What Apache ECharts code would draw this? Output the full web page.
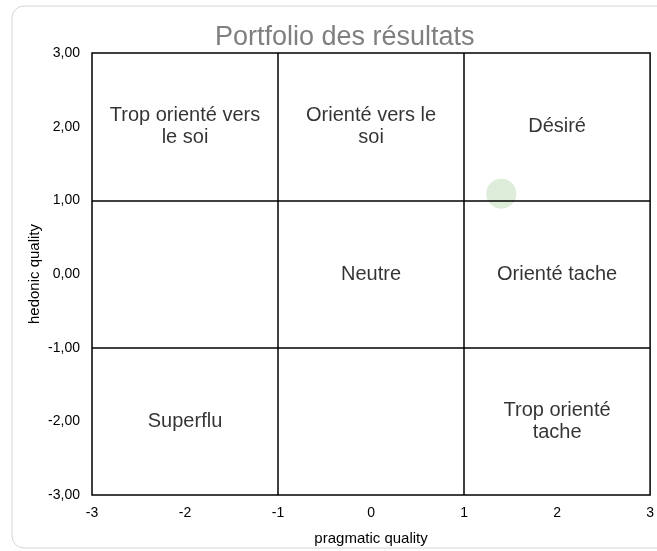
<!DOCTYPE html>
<html>
<head>
<meta charset="utf-8">
<script src="https://cdn.jsdelivr.net/npm/echarts@6/dist/echarts.min.js"></script>
<style>
  html, body { margin: 0; padding: 0; background: #fff; }
  #portfolioChart { width: 657px; height: 551px; }
</style>
</head>
<body>
<div id="portfolioChart"></div>
<script>
// données
const resultX = [1.40];
const resultY = [1.09];
const zoneNames = ["Trop orienté vers\nle soi", "Orienté vers le\nsoi", "Désiré", "Neutre", "Orienté tache", "Superflu", "Trop orienté\ntache"];
const zoneX = [-2, 0, 2, 0, 2, -2, 2];
const zoneY = [2, 2, 2, 0, 0, -2, -2];
const zoneBounds = [-1, 1];
const axisMin = -3, axisMax = 3;

const chart = echarts.init(document.getElementById("portfolioChart"));
const font = "Liberation Sans, Arial, sans-serif";

const option = {
  backgroundColor: "#fff",
  animation: false,
  graphic: [
    {
      type: "rect",
      shape: { x: 12, y: 6, width: 680, height: 542, r: 12 },
      style: { fill: "none", stroke: "#d4d4d4", lineWidth: 1 },
      silent: true,
    },
  ],
  title: {
    text: "Portfolio des résultats",
    left: 210,
    top: 19,
    textStyle: { color: "#7f7f7f", fontSize: 27, fontWeight: "normal", fontFamily: font },
  },
  grid: {
    left: 92,
    right: 6,
    top: 53,
    bottom: 55,
    show: true,
    borderColor: "#000",
    borderWidth: 1.5,
  },
  xAxis: {
    type: "value",
    min: axisMin,
    max: axisMax,
    interval: 1,
    name: "pragmatic quality",
    nameLocation: "middle",
    nameGap: 36,
    nameMoveOverlap: false,
    nameTextStyle: { color: "#000", fontSize: 15, fontFamily: font },
    axisLine: { show: false },
    axisTick: { show: false },
    splitLine: { show: false },
    axisLabel: { color: "#000", fontSize: 14, fontFamily: font, margin: 11 },
  },
  yAxis: {
    type: "value",
    min: axisMin,
    max: axisMax,
    interval: 1,
    name: "hedonic quality",
    nameLocation: "middle",
    nameGap: 50,
    nameMoveOverlap: false,
    nameTextStyle: { color: "#000", fontSize: 15, fontFamily: font },
    axisLine: { show: false },
    axisTick: { show: false },
    splitLine: { show: false },
    axisLabel: {
      color: "#000",
      fontSize: 14,
      fontFamily: font,
      margin: 12,
      formatter: (v) => v.toFixed(2).replace(".", ","),
    },
  },
  series: [
    {
      type: "scatter",
      silent: true,
      symbolSize: 0,
      data: zoneX.map((x, i) => [x, zoneY[i], zoneNames[i]]),
      label: {
        show: true,
        position: "inside",
        formatter: (p) => p.data[2],
        color: "#000",
        fontSize: 20,
        lineHeight: 22,
        fontFamily: font,
        align: "center",
      },
      markLine: {
        silent: true,
        symbol: "none",
        label: { show: false },
        lineStyle: { color: "#000", width: 1.5, type: "solid" },
        data: zoneBounds.map((v) => ({ xAxis: v })).concat(zoneBounds.map((v) => ({ yAxis: v }))),
      },
    },
    {
      type: "scatter",
      symbolSize: 30,
      itemStyle: { color: "#d5e8cf" },
      data: resultX.map((x, i) => [x, resultY[i]]),
    },
  ],
};

chart.setOption(option);
</script>
</body>
</html>
